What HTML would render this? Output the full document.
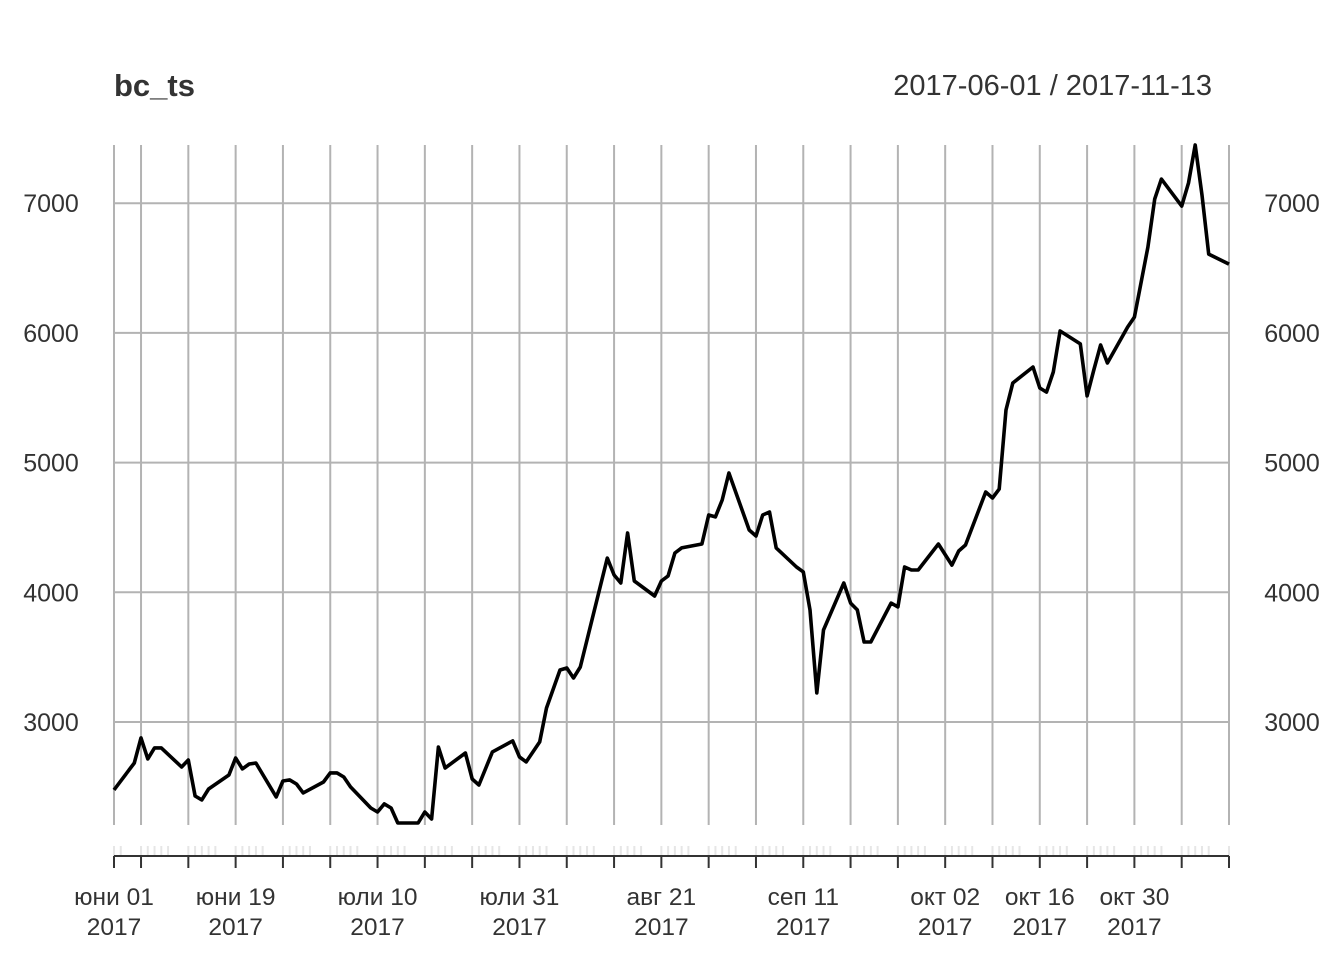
<!DOCTYPE html>
<html><head><meta charset="utf-8"><style>
html,body{margin:0;padding:0;background:#fff;}
svg{display:block;font-family:"Liberation Sans",sans-serif;}
</style></head><body>
<svg id="chart" width="1344" height="960" viewBox="0 0 1344 960" xmlns="http://www.w3.org/2000/svg">
<text x="114" y="96" font-size="31" font-weight="bold" fill="#333">bc_ts</text>
<text x="1212" y="95" font-size="29" fill="#333" text-anchor="end">2017-06-01 / 2017-11-13</text>
<g id="grid"></g><g id="axes"></g><g id="series"></g>
</svg>
<script>
const days = [0,3,4,5,6,7,10,11,12,13,14,17,18,19,20,21,24,25,26,27,28,31,32,33,34,35,38,39,40,41,42,45,46,47,48,49,52,53,54,56,59,60,61,63,64,66,67,68,69,73,74,75,76,77,80,81,82,83,84,87,88,89,90,91,94,95,96,97,98,101,102,103,104,105,108,109,110,111,112,115,116,117,118,119,122,124,125,126,129,130,131,132,133,136,137,138,139,140,143,144,145,146,147,150,151,153,154,155,158,159,160,161,162,165];
const values = [2476,2684,2877,2715,2800,2800,2653,2707,2429,2399,2483,2591,2722,2638,2676,2684,2422,2545,2553,2522,2453,2537,2607,2607,2576,2499,2337,2306,2368,2337,2221,2221,2306,2252,2807,2645,2761,2560,2514,2769,2854,2730,2692,2846,3108,3401,3416,3339,3424,4264,4133,4072,4457,4087,3971,4087,4126,4303,4342,4372,4596,4581,4712,4920,4480,4434,4596,4619,4342,4195,4157,3864,3224,3709,4072,3917,3864,3617,3617,3917,3887,4195,4172,4172,4372,4210,4318,4365,4773,4727,4796,5406,5614,5737,5575,5544,5699,6015,5915,5514,5714,5907,5768,6045,6122,6662,7032,7186,6978,7156,7449,7063,6608,6531];
const yTicks = [3000,4000,5000,6000,7000];
const xLabelDays = [0,18,39,60,81,102,123,137,151];
const xLabelText = ["юни 01","юни 19","юли 10","юли 31","авг 21","сеп 11","окт 02","окт 16","окт 30"];
const totalDays = 165;

const X0=114,X1=1229,Y0=823,Y1=145;
const vmin=Math.min(...values), vmax=Math.max(...values);
const xs=d=>X0+(X1-X0)*d/totalDays;
const ys=v=>Y0-(Y0-Y1)*(v-vmin)/(vmax-vmin);
const NS="http://www.w3.org/2000/svg";
function mk(tag,attrs,parent,txt){const e=document.createElementNS(NS,tag);for(const k in attrs)e.setAttribute(k,attrs[k]);if(txt!==undefined)e.textContent=txt;parent.appendChild(e);return e;}
const grid=document.getElementById('grid'),axes=document.getElementById('axes'),series=document.getElementById('series');
const weekDays=[0];for(let d=4;d<=totalDays;d+=7)weekDays.push(d);
weekDays.forEach(d=>{const l=mk('line',{x1:xs(d),x2:xs(d),y1:145,y2:825,stroke:'#b3b3b3','stroke-width':2},grid);

});
yTicks.forEach(v=>{const l=mk('line',{x1:X0,x2:X1,y1:ys(v),y2:ys(v),stroke:'#b3b3b3','stroke-width':2},grid);


const a=mk('text',{x:51,y:ys(v)+9,'font-size':25,fill:'#333','text-anchor':'middle'},axes,String(v));


const b=mk('text',{x:1292,y:ys(v)+9,'font-size':25,fill:'#333','text-anchor':'middle'},axes,String(v));

});
for(let d=0;d<=totalDays;d++){const wd=(4+d)%7;if(wd===0||wd===6)continue;
const t=mk('line',{x1:xs(d),x2:xs(d),y1:846,y2:856,stroke:'#e6e6e6','stroke-width':2},axes);

}
const ax=mk('line',{x1:X0,x2:X1,y1:856,y2:856,stroke:'#333','stroke-width':2},axes);


weekDays.forEach(d=>{const t=mk('line',{x1:xs(d),x2:xs(d),y1:856,y2:868,stroke:'#333','stroke-width':2},axes);

});
xLabelDays.forEach((d,i)=>{const a=mk('text',{x:xs(d),y:905,'font-size':24.5,fill:'#333','text-anchor':'middle'},axes,xLabelText[i]);


const b=mk('text',{x:xs(d),y:935,'font-size':24.5,fill:'#333','text-anchor':'middle'},axes,'2017');

});
const pts=days.map((d,i)=>xs(d).toFixed(1)+','+ys(values[i]).toFixed(1)).join(' ');
const pl=mk('polyline',{points:pts,fill:'none',stroke:'#000','stroke-width':3.6,'stroke-linejoin':'round'},series);


</script>
</body></html>
